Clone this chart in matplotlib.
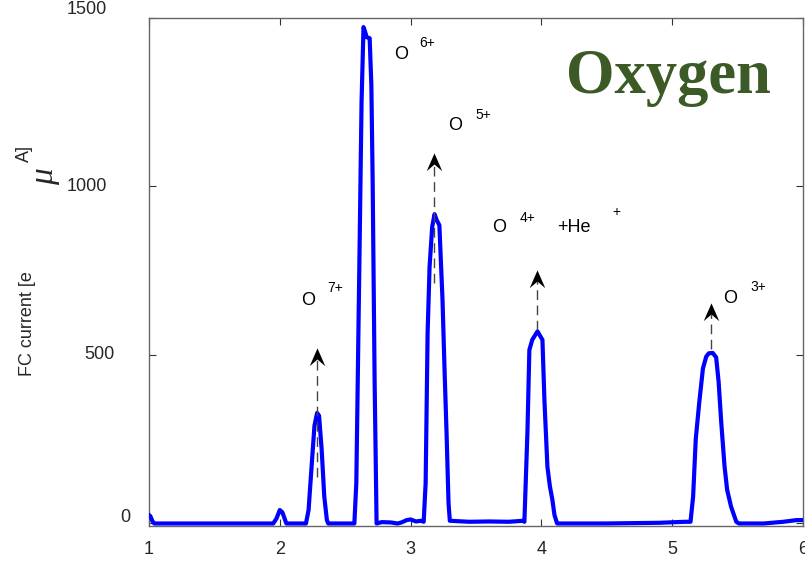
import numpy as np
import matplotlib
matplotlib.use('Agg')
import matplotlib.pyplot as plt
from matplotlib.path import Path

plt.rcParams['font.family'] = ['Liberation Sans', 'DejaVu Sans']

# FC current trace
mass_q = [1.00, 1.01, 1.025, 1.04, 1.95, 1.975, 2.00, 2.02, 2.05,
          2.20, 2.22, 2.245, 2.265, 2.285, 2.30, 2.32, 2.34, 2.36, 2.37,
          2.57, 2.585, 2.61, 2.625, 2.64, 2.65, 2.664, 2.687, 2.70, 2.71, 2.725, 2.74,
          2.78, 2.85, 2.90, 2.93, 2.97, 3.00, 3.04, 3.08,
          3.10, 3.115, 3.13, 3.145, 3.165, 3.183, 3.20, 3.22, 3.244, 3.26, 3.275, 3.29, 3.30,
          3.45, 3.6, 3.75, 3.86,
          3.87, 3.893, 3.908, 3.93, 3.97, 4.008, 4.023, 4.046, 4.065, 4.084, 4.10, 4.12,
          4.5, 4.9, 5.10, 5.14,
          5.16, 5.18, 5.206, 5.235, 5.26, 5.28, 5.31, 5.336, 5.355, 5.374, 5.40, 5.42, 5.45, 5.49, 5.51,
          5.7, 5.85, 5.95, 6.00]
fc_current = [25, 22, 8, 0, 0, 15, 40, 33, 0,
              0, 40, 180, 290, 328, 320, 220, 80, 10, 0,
              0, 120, 817, 1250, 1473, 1462, 1443, 1440, 1300, 1013, 420, 0,
              4, 3, 0, 3, 10, 12, 6, 8,
              5, 120, 565, 761, 880, 918, 900, 885, 663, 450, 268, 60, 8,
              5, 6, 5, 8,
              5, 268, 515, 545, 570, 545, 367, 168, 110, 70, 25, 0,
              0, 2, 5, 5,
              80, 250, 356, 460, 495, 505, 506, 493, 420, 305, 170, 100, 50, 5, 0,
              0, 5, 10, 10]

# arrows: x position, tail, tip
arrow_x = [2.288, 3.18, 3.965, 5.30]
arrow_tail = [137, 715, 573, 519]
arrow_tip = [522, 1100, 754, 656]

# ion labels: (x, y) of "O", charge label position
ion_o = [(2.22, 662), (2.924, 1393), (3.343, 1182), (3.68, 877), (5.443, 669)]
ion_charge = ['7+', '6+', '5+', '4+', '3+']
charge_pos = [(2.42, 699), (3.13, 1426), (3.557, 1212), (3.893, 906), (5.656, 702)]

yticks = [0, 500, 1000, 1500]
xticks = [1, 2, 3, 4, 5, 6]

# concave arrow head, notch at the origin, tip pointing up
head = Path([(0, 1.0), (0.7, -0.6), (0, 0), (-0.7, -0.6), (0, 1.0)],
            [Path.MOVETO, Path.LINETO, Path.LINETO, Path.LINETO, Path.CLOSEPOLY])

fig = plt.figure(figsize=(8.05, 5.63), dpi=100)
ax = fig.add_axes([149 / 805, 37 / 563, 654 / 805, 508 / 563])

ax.plot(mass_q, fc_current, color='#0000ff', lw=3, solid_joinstyle='round', zorder=3)

for x, t0, t1 in zip(arrow_x, arrow_tail, arrow_tip):
    notch = t1 - 33
    ax.plot([x, x], [t0, notch], color='#444444', lw=1, ls=(0, (7, 4)), zorder=4)
    ax.plot([x], [notch], marker=head, ms=16, color='black', mew=0, zorder=5)

for (ox, oy), q, (qx, qy) in zip(ion_o, ion_charge, charge_pos):
    ax.text(ox, oy, 'O', fontsize=13, ha='center', va='center')
    ax.text(qx, qy, q, fontsize=10, ha='center', va='center')
ax.text(4.25, 877, '+He', fontsize=13, ha='center', va='center')
ax.text(4.573, 924, '+', fontsize=10, ha='center', va='center')

ax.text(4.97, 1322, 'Oxygen', fontsize=45, fontweight='bold', color='#3b5a26',
        family='Liberation Serif', ha='center', va='center')

ax.set_xlim(1, 6)
ax.set_ylim(-7.5, 1500)
ax.set_xticks(xticks)
ax.set_yticks(yticks)
ax.set_yticklabels([])
ax.tick_params(direction='in', length=5, top=True, right=True, color='#333333',
               labelsize=13, pad=11, labelcolor='#262626')
for sp in ax.spines.values():
    sp.set_color('#666666')
    sp.set_linewidth(1)

# y tick labels, staggered as in the original
ylab_dx = [-19, -34, -42, -42]
ylab_dy = [6, 0, 0, 8]
for v, dx, dy in zip(yticks, ylab_dx, ylab_dy):
    ax.annotate(str(v), xy=(0, v), xycoords=('axes fraction', 'data'),
                xytext=(dx, dy), textcoords='offset pixels',
                ha='right', va='center', fontsize=13, color='#262626')

# broken y label pieces
fig.text(27 / 805, 1 - 324 / 563, 'FC current [e', rotation=90, fontsize=13,
         ha='center', va='center', color='#262626')
fig.text(45 / 805, 1 - 177 / 563, 'μ', rotation=90, fontsize=24, style='italic',
         family=['Liberation Serif', 'DejaVu Serif'],
         ha='center', va='center', color='#262626')
fig.text(24 / 805, 1 - 153 / 563, 'A]', rotation=90, fontsize=13,
         ha='center', va='center', color='#262626')

fig.savefig('out.png', dpi=100)
